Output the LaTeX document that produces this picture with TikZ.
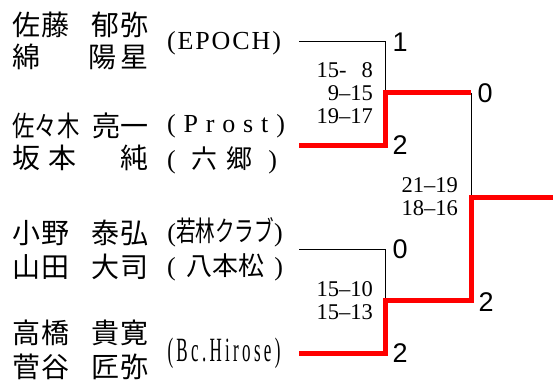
\documentclass[tikz,border=0pt]{standalone}
\usepackage{fontspec}
\usepackage{graphicx}
\setmainfont{Liberation Serif}
\newfontfamily\jp{Noto Sans CJK JP}
\newfontfamily\gothic{Liberation Sans}
\newcommand{\spread}[2]{\makebox[#1][s]{#2}}

\begin{document}
\begin{tikzpicture}[x=1pt,y=-1pt,
  player/.style={anchor=west,inner sep=0pt,font=\jp\fontsize{28}{28}\selectfont},
  club/.style={inner sep=0pt,font=\fontsize{26}{26}\selectfont},
  games/.style={anchor=east,align=right,inner sep=0pt,font=\fontsize{22.5}{23}\selectfont},
  result/.style={inner sep=0pt,font=\gothic\fontsize{27}{27}\selectfont},
  lose/.style={line width=0.9pt},
  win/.style={red,line width=5pt}]
\useasboundingbox (0,0) rectangle (553,385);

\node[player] (p1a) at (12,25) {\spread{136pt}{佐\hspace{1pt}藤\hfill 郁\hspace{1pt}弥}};
\node[player] (p1b) at (12,57) {\spread{136pt}{綿\hfill 陽\hspace{4pt}星}};
\node[club] (c1) at (224,43) {\spread{114pt}{(\hfill E\hfill P\hfill O\hfill C\hfill H\hfill )}};

\node[player] (p2a) at (12,126) {\spread{136pt}{\scalebox{0.8}[1]{佐々木}\hfill 亮一}};
\node[player] (p2b) at (12,158) {\spread{136pt}{坂\hspace{8pt}本\hfill 純}};
\node[club] (c2a) at (226,126) {\spread{118pt}{(\hfill P\hfill r\hfill o\hfill s\hfill t\hfill )}};
\node[club] (c2b) at (222,160) {\spread{110pt}{(\hfill{\jp 六}\hspace{9pt}{\jp 郷}\hfill )}};

\node[player] (p3a) at (12,233) {\spread{136pt}{小\hspace{1pt}野\hfill 泰\hspace{1pt}弘}};
\node[player] (p3b) at (12,267) {\spread{136pt}{山\hspace{1pt}田\hfill 大\hspace{1pt}司}};
\node[club] (c3a) at (225,232) {(\scalebox{0.7}[1]{\jp\fontsize{28}{28}\selectfont 若林クラブ})};
\node[club] (c3b) at (225,267) {\spread{116pt}{(\hfill{\jp 八本松}\hfill )}};

\node[player] (p4a) at (12,333) {\spread{136pt}{高\hspace{1pt}橋\hfill 貴\hspace{1pt}寛}};
\node[player] (p4b) at (12,367) {\spread{136pt}{菅\hspace{1pt}谷\hfill 匠\hspace{1pt}弥}};
\node[club,font=\fontsize{34}{34}\selectfont] (c4) at (224,353)
  {\scalebox{0.5}[1]{\spread{226pt}{(\hfill B\hfill c\hfill .\hfill H\hfill i\hfill r\hfill o\hfill s\hfill e\hfill )}}};

\coordinate (t1) at (299,41);
\coordinate (t2) at (299,145);
\coordinate (t3) at (299,249);
\coordinate (t4) at (299,353);
\coordinate (j1) at (385,93);
\coordinate (j2) at (385,300);
\coordinate (k1) at (471,93);
\coordinate (k2) at (471,300);
\coordinate (f) at (471,197);
\coordinate (e) at (553,197);

\draw[lose] (t1) -| (j1);
\draw[lose] (t3) -| (j2);
\draw[lose] (k1) -- (f);
\draw[win] (t2) -| (j1) -- (k1);
\draw[win] (t4) -| (j2) -- (k2) -- (f) -- (e);

\node[games] (g1) at (373,93) {15-\hspace{0.667em}8\\9\textendash15\\19\textendash17};
\node[games] (g2) at (373,301) {15\textendash10\\15\textendash13};
\node[games] (g3) at (458,197) {21\textendash19\\18\textendash16};

\node[result] (r1a) at (400,42) {1};
\node[result] (r1b) at (400,145) {2};
\node[result] (r1w) at (485,93) {0};
\node[result] (r2a) at (400,249) {0};
\node[result] (r2b) at (400,353) {2};
\node[result] (r2w) at (486,302) {2};
\end{tikzpicture}
\end{document}
